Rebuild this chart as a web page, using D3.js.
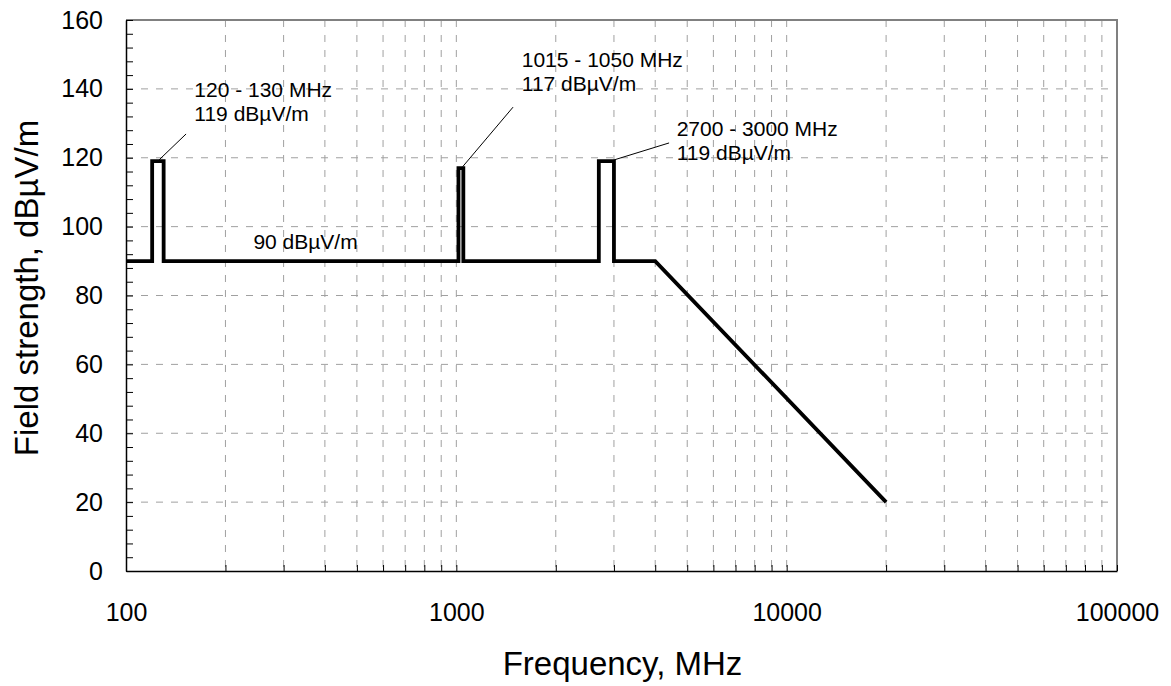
<!DOCTYPE html>
<html>
<head>
<meta charset="utf-8">
<script src="https://cdn.jsdelivr.net/npm/d3@7"></script>
<style>
  body { margin: 0; background: #fff; }
  text { font-family: Arial, "Liberation Sans", sans-serif; fill: #000; }
</style>
</head>
<body>
<svg id="chart" width="1171" height="686"></svg>
<script>
// limit line, frequency (MHz) vs field strength (dBµV/m)
const freqs  = [100, 120, 120, 130, 130, 1015, 1015, 1050, 1050, 2700, 2700, 3000, 3000, 4000, 20000];
const levels = [90, 90, 119, 119, 90, 90, 117, 117, 90, 90, 119, 119, 90, 90, 20];

const xDecades = [100, 1000, 10000, 100000];
const yLabelTicks = [0, 20, 40, 60, 80, 100, 120, 140, 160];

// annotations: text lines, text anchor and leader line in data units
const annotations = [
  { lines: ["120 - 130 MHz", "119 dBµV/m"], at: [161, 137.6], leader: [[152, 126.9], [126, 119.4]] },
  { lines: ["1015 - 1050 MHz", "117 dBµV/m"], at: [1578, 146.4], leader: [[1485, 134.7], [1045, 117.4]] },
  { lines: ["2700 - 3000 MHz", "119 dBµV/m"], at: [4645, 126.3], leader: [[4406, 124.3], [3010, 119.4]] },
  { lines: ["90 dBµV/m"], at: [243, 93.5], leader: null }
];

const margin = { top: 20, right: 54, bottom: 115, left: 126 };
const width = 1171 - margin.left - margin.right;
const height = 686 - margin.top - margin.bottom;

const svg = d3.select("#chart");
const g = svg.append("g").attr("transform", `translate(${margin.left},${margin.top})`);

const x = d3.scaleLog().domain([100, 100000]).range([0, width]);
const y = d3.scaleLinear().domain([0, 160]).range([height, 0]);

// all 1..9 x decade values for minor ticks / grid
const xMinor = [];
xDecades.slice(0, -1).forEach(d => { for (let k = 1; k < 10; k++) xMinor.push(d * k); });
xMinor.push(100000);
const yMinor = d3.range(0, 161, 4);

// gridlines
g.append("g").selectAll("line")
  .data(xMinor.filter(v => v > 100 && v < 100000))
  .enter().append("line")
  .attr("x1", d => x(d)).attr("x2", d => x(d))
  .attr("y1", 0).attr("y2", height)
  .attr("stroke", "#a0a0a0")
  .attr("stroke-width", 1)
  .attr("stroke-dasharray", "7 8");

g.append("g").selectAll("line")
  .data(yLabelTicks.filter(v => v > 0 && v < 160))
  .enter().append("line")
  .attr("x1", 0).attr("x2", width)
  .attr("y1", d => y(d)).attr("y2", d => y(d))
  .attr("stroke", "#a0a0a0")
  .attr("stroke-width", 1)
  .attr("stroke-dasharray", "7 8");

// top and right frame
g.append("path")
  .attr("d", `M0,0H${width}V${height}`)
  .attr("fill", "none")
  .attr("stroke", "#808080")
  .attr("stroke-width", 2);

// x axis
const xAxis = d3.axisBottom(x)
  .tickValues(xMinor)
  .tickSizeInner(-6)
  .tickSizeOuter(0)
  .tickPadding(32)
  .tickFormat(d => xDecades.includes(d) ? d3.format("d")(d) : "");
const xg = g.append("g").attr("transform", `translate(0,${height})`).call(xAxis);
xg.select(".domain").attr("stroke", "#000").attr("stroke-width", 1.5);
xg.selectAll("line").attr("stroke", "#000");
xg.selectAll("text").style("font-size", "25px").attr("font-family", null);

// y axis
const yAxis = d3.axisLeft(y)
  .tickValues(yMinor)
  .tickSizeInner(-7)
  .tickSizeOuter(0)
  .tickPadding(23)
  .tickFormat(d => d % 20 === 0 ? d : "");
const yg = g.append("g").call(yAxis);
yg.select(".domain").attr("stroke", "#000").attr("stroke-width", 1.5);
yg.selectAll("line").attr("stroke", "#000");
yg.selectAll("text").style("font-size", "25px").attr("font-family", null);

// limit line
const line = d3.line().x(d => x(d[0])).y(d => y(d[1]));
g.append("path")
  .datum(freqs.map((f, i) => [f, levels[i]]))
  .attr("d", line)
  .attr("fill", "none")
  .attr("stroke", "#000")
  .attr("stroke-width", 3.8)
  .attr("stroke-linejoin", "miter");

// annotations
annotations.forEach(a => {
  if (a.leader) {
    g.append("line")
      .attr("x1", x(a.leader[0][0])).attr("y1", y(a.leader[0][1]))
      .attr("x2", x(a.leader[1][0])).attr("y2", y(a.leader[1][1]))
      .attr("stroke", "#000")
      .attr("stroke-width", 1);
  }
  const t = g.append("text")
    .attr("x", x(a.at[0]))
    .attr("y", y(a.at[1]))
    .style("font-size", "21px");
  a.lines.forEach((s, i) => {
    t.append("tspan").attr("x", x(a.at[0])).attr("dy", i === 0 ? 0 : 24).text(s);
  });
});

// axis titles
svg.append("text")
  .attr("x", margin.left + width / 2 + 1)
  .attr("y", 675)
  .attr("text-anchor", "middle")
  .style("font-size", "33px")
  .text("Frequency, MHz");

svg.append("text")
  .attr("transform", "translate(38,288) rotate(-90)")
  .attr("text-anchor", "middle")
  .style("font-size", "33px")
  .text("Field strength, dBµV/m");
</script>
</body>
</html>
